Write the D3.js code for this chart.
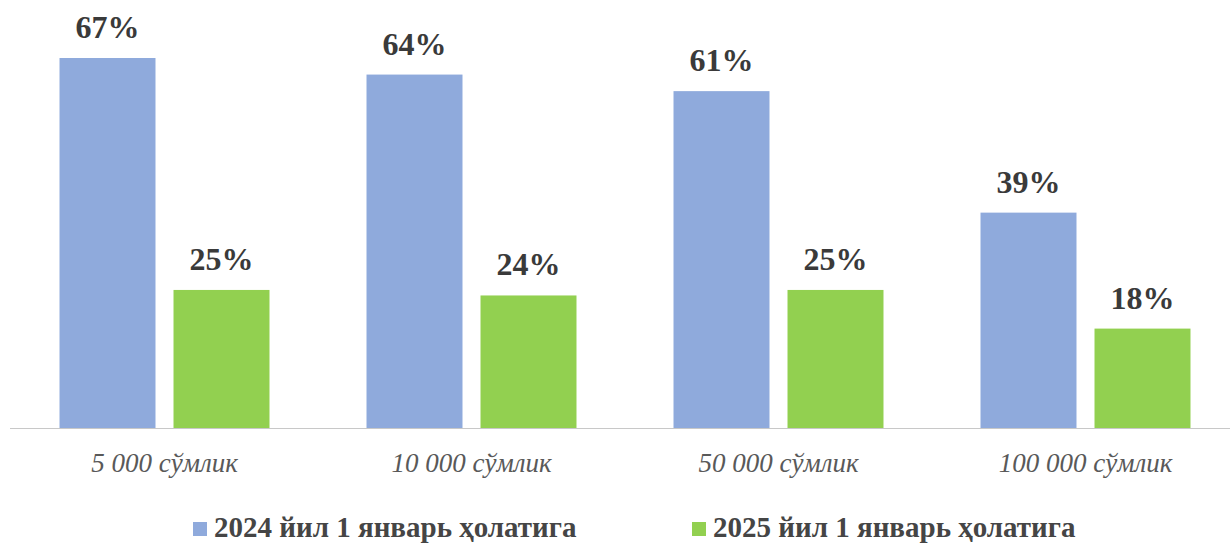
<!DOCTYPE html>
<html>
<head>
<meta charset="utf-8">
<script src="https://cdn.jsdelivr.net/npm/d3@7"></script>
<style>
    body { margin: 0; background: #fff; }
    svg { display: block; }
</style>
</head>
<body>
<div id="chart"></div>
<script>
var categories = ["5 000 сўмлик", "10 000 сўмлик", "50 000 сўмлик", "100 000 сўмлик"];
var seriesNames = ["2024 йил 1 январь ҳолатига", "2025 йил 1 январь ҳолатига"];
var values2024 = [67, 64, 61, 39];
var values2025 = [25, 24, 25, 18];
var colors = ["#8faadc", "#92d050"];

var width = 1230, height = 544;
var baseline = 428;

var data = categories.map(function (c, i) {
    return { cat: c, vals: [values2024[i], values2025[i]] };
});

var svg = d3.select("#chart")
    .append("svg")
    .attr("width", width)
    .attr("height", height);

var x0 = d3.scaleBand()
    .domain(categories)
    .range([11, 1239])
    .paddingInner(0.316)
    .paddingOuter(0.158);

var x1 = d3.scaleBand()
    .domain(seriesNames)
    .range([0, x0.bandwidth()])
    .paddingInner(0.158)
    .paddingOuter(0);

var y = d3.scaleLinear()
    .domain([0, 67])
    .range([baseline, 58]);

// axis line
svg.append("line")
    .attr("x1", 10)
    .attr("x2", width)
    .attr("y1", baseline + 0.5)
    .attr("y2", baseline + 0.5)
    .attr("stroke", "#c8c8c8")
    .attr("stroke-width", 1.2);

var groups = svg.selectAll(".grp")
    .data(data)
    .enter()
    .append("g")
    .attr("class", "grp")
    .attr("transform", function (d) { return "translate(" + x0(d.cat) + ",0)"; });

groups.selectAll("rect")
    .data(function (d) { return d.vals.map(function (v, i) { return { s: seriesNames[i], v: v, i: i }; }); })
    .enter()
    .append("rect")
    .attr("x", function (d) { return x1(d.s); })
    .attr("y", function (d) { return y(d.v); })
    .attr("width", x1.bandwidth())
    .attr("height", function (d) { return baseline - y(d.v); })
    .attr("fill", function (d) { return colors[d.i]; });

groups.selectAll("text.val")
    .data(function (d) { return d.vals.map(function (v, i) { return { s: seriesNames[i], v: v }; }); })
    .enter()
    .append("text")
    .attr("class", "val")
    .attr("x", function (d) { return x1(d.s) + x1.bandwidth() / 2; })
    .attr("y", function (d) { return y(d.v) - 20; })
    .attr("text-anchor", "middle")
    .style("font-family", "'Liberation Serif', 'Times New Roman', serif")
    .style("font-weight", "bold")
    .style("font-size", "32px")
    .style("fill", "#3a3a3a")
    .text(function (d) { return d.v + "%"; });

// category labels
svg.selectAll("text.cat")
    .data(categories)
    .enter()
    .append("text")
    .attr("class", "cat")
    .attr("x", function (d) { return x0(d) + x0.bandwidth() / 2; })
    .attr("y", 472)
    .attr("text-anchor", "middle")
    .style("font-family", "'Liberation Serif', 'Times New Roman', serif")
    .style("font-style", "italic")
    .style("font-size", "27px")
    .style("fill", "#595959")
    .text(function (d) { return d; });

// legend
var legendX = [193, 692];
var legend = svg.selectAll(".leg")
    .data(seriesNames)
    .enter()
    .append("g")
    .attr("class", "leg")
    .attr("transform", function (d, i) { return "translate(" + legendX[i] + ",522)"; });

legend.append("rect")
    .attr("width", 14)
    .attr("height", 14)
    .attr("fill", function (d, i) { return colors[i]; });

legend.append("text")
    .attr("x", 21)
    .attr("y", 15)
    .style("font-family", "'Liberation Serif', 'Times New Roman', serif")
    .style("font-weight", "bold")
    .style("font-size", "29px")
    .style("fill", "#454545")
    .text(function (d) { return d; });
</script>
</body>
</html>
